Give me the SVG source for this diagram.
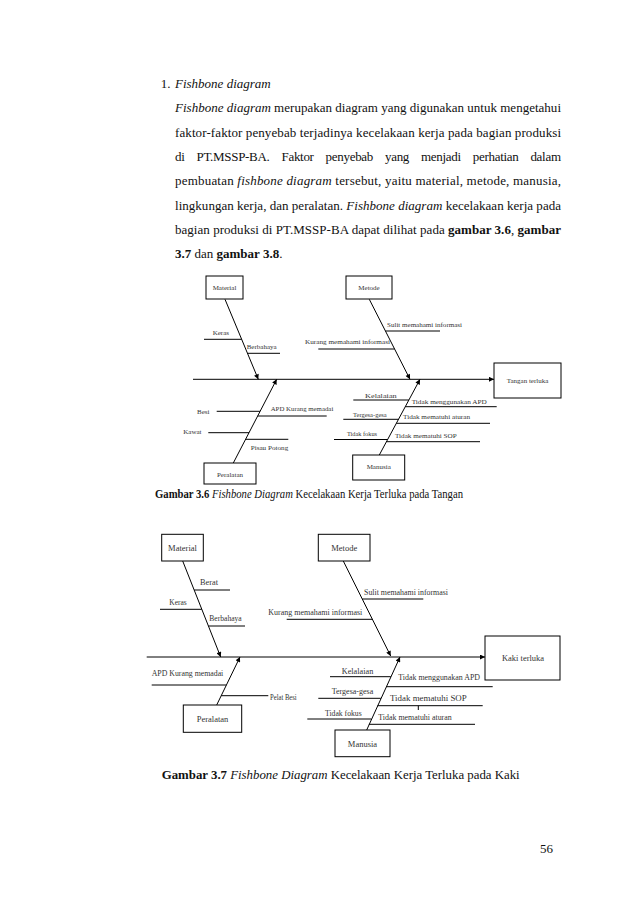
<svg xmlns="http://www.w3.org/2000/svg" width="638" height="903" viewBox="0 0 638 903">
<style>
.body{font-family:"Liberation Serif","Times New Roman",serif;font-size:13px;fill:#111}
.cap{font-family:"Liberation Serif","Times New Roman",serif;fill:#111}
.it{font-style:italic}
.bd{font-weight:bold}
.ln{stroke:#000;stroke-width:1;fill:none}
.bx{stroke:#000;stroke-width:1;fill:#fff}
.l1{font-family:"Liberation Serif","Times New Roman",serif;font-size:7px;fill:#333}
.l2{font-family:"Liberation Serif","Times New Roman",serif;font-size:8.5px;fill:#333}
.c{text-anchor:middle}
</style>
<defs>
<marker id="ah" viewBox="0 0 10 10" refX="10" refY="5" markerWidth="6" markerHeight="5" markerUnits="userSpaceOnUse" orient="auto">
<path d="M0,0 L10,5 L0,10 z" fill="#000"/>
</marker>
</defs>
<rect width="638" height="903" fill="#fff"/>

<g id="paragraph">
<text class="body" x="160.7" y="88">1.</text>
<text class="body it" x="175" y="88">Fishbone diagram</text>
<text class="body" x="175" y="112.3" textLength="386" lengthAdjust="spacing"><tspan class="it">Fishbone diagram</tspan> merupakan diagram yang digunakan untuk mengetahui</text>
<text class="body" x="175" y="136.7" textLength="386" lengthAdjust="spacing">faktor-faktor penyebab terjadinya kecelakaan kerja pada bagian produksi</text>
<text class="body" x="175" y="160.7" textLength="386" lengthAdjust="spacing" word-spacing="9">di PT.MSSP-BA. Faktor penyebab yang menjadi perhatian dalam</text>
<text class="body" x="175" y="185" textLength="386" lengthAdjust="spacing">pembuatan <tspan class="it">fishbone diagram</tspan> tersebut, yaitu material, metode, manusia,</text>
<text class="body" x="175" y="209.7" textLength="386" lengthAdjust="spacing">lingkungan kerja, dan peralatan. <tspan class="it">Fishbone diagram</tspan> kecelakaan kerja pada</text>
<text class="body" x="175" y="234" textLength="386" lengthAdjust="spacing">bagian produksi di PT.MSSP-BA dapat dilihat pada <tspan class="bd">gambar 3.6</tspan>, <tspan class="bd">gambar</tspan></text>
<text class="body" x="175" y="258"><tspan class="bd">3.7</tspan> dan <tspan class="bd">gambar 3.8</tspan>.</text>
</g>

<!-- ===== Diagram 3.6 ===== -->
<g id="d1-connectors">
<line class="ln" x1="193" y1="379.3" x2="494" y2="379.3" marker-end="url(#ah)"/>
<line class="ln" x1="225" y1="299.3" x2="258.3" y2="379.3" marker-end="url(#ah)"/>
<line class="ln" x1="369.3" y1="299.3" x2="410" y2="379.3" marker-end="url(#ah)"/>
<line class="ln" x1="233.3" y1="463" x2="276.7" y2="379.3" marker-end="url(#ah)"/>
<line class="ln" x1="379.3" y1="455" x2="420" y2="379.3" marker-end="url(#ah)"/>
<line class="ln" x1="204" y1="339.3" x2="241.7" y2="339.3"/>
<line class="ln" x1="247.5" y1="353.3" x2="280" y2="353.3"/>
<line class="ln" x1="385.4" y1="331" x2="440" y2="331"/>
<line class="ln" x1="318.3" y1="349" x2="394.6" y2="349"/>
<line class="ln" x1="216.7" y1="411.3" x2="260" y2="411.3"/>
<line class="ln" x1="257.7" y1="416" x2="326.7" y2="416"/>
<line class="ln" x1="208.3" y1="432.7" x2="249" y2="432.7"/>
<line class="ln" x1="245.6" y1="439.3" x2="288.3" y2="439.3"/>
<line class="ln" x1="353.3" y1="400" x2="408.9" y2="400"/>
<line class="ln" x1="405.3" y1="406.7" x2="496.7" y2="406.7"/>
<line class="ln" x1="343.3" y1="419.3" x2="398.5" y2="419.3"/>
<line class="ln" x1="396.3" y1="423.3" x2="490" y2="423.3"/>
<line class="ln" x1="334" y1="439.5" x2="387.6" y2="439.5"/>
<line class="ln" x1="386.5" y1="441.7" x2="480" y2="441.7"/>
</g>
<g id="d1-material"><rect class="bx" x="206" y="276" width="37" height="23"/><text class="l1 c" x="224.5" y="290">Material</text></g>
<g id="d1-metode"><rect class="bx" x="346" y="276" width="46" height="23"/><text class="l1 c" x="369" y="290">Metode</text></g>
<g id="d1-effect"><rect class="bx" x="494" y="363" width="67" height="35"/><text class="l1 c" x="527.5" y="383">Tangan terluka</text></g>
<g id="d1-peralatan"><rect class="bx" x="204" y="463" width="52" height="21"/><text class="l1 c" x="230" y="476.5">Peralatan</text></g>
<g id="d1-manusia"><rect class="bx" x="352.7" y="455" width="52" height="25"/><text class="l1 c" x="378.7" y="469">Manusia</text></g>
<g id="d1-labels">
<text class="l1" x="212.7" y="334.5">Keras</text>
<text class="l1" x="246.7" y="348.5">Berbahaya</text>
<text class="l1" x="387" y="326.5" textLength="75" lengthAdjust="spacingAndGlyphs">Sulit memahami informasi</text>
<text class="l1" x="305" y="344" textLength="85" lengthAdjust="spacingAndGlyphs">Kurang memahami informasi</text>
<text class="l1" x="197" y="413.5">Besi</text>
<text class="l1" x="270.7" y="410.8" textLength="62.6" lengthAdjust="spacingAndGlyphs">APD Kurang memadai</text>
<text class="l1" x="183.3" y="434">Kawat</text>
<text class="l1" x="250.7" y="449.8" textLength="37.6" lengthAdjust="spacingAndGlyphs">Pisau Potong</text>
<text class="l1" x="365" y="397.5" textLength="31.7" lengthAdjust="spacingAndGlyphs">Kelalaian</text>
<text class="l1" x="411.7" y="403.5" textLength="75" lengthAdjust="spacingAndGlyphs">Tidak menggunakan APD</text>
<text class="l1" x="353" y="416.5" textLength="33.7" lengthAdjust="spacingAndGlyphs">Tergesa-gesa</text>
<text class="l1" x="403" y="419.2" textLength="67" lengthAdjust="spacingAndGlyphs">Tidak mematuhi aturan</text>
<text class="l1" x="347" y="435.5" textLength="30" lengthAdjust="spacingAndGlyphs">Tidak fokus</text>
<text class="l1" x="395" y="437.5" textLength="61.7" lengthAdjust="spacingAndGlyphs">Tidak mematuhi SOP</text>
</g>
<text class="cap" x="155" y="497.5" font-size="11.5" textLength="308" lengthAdjust="spacingAndGlyphs"><tspan class="bd">Gambar 3.6</tspan> <tspan class="it">Fishbone Diagram</tspan> Kecelakaan Kerja Terluka pada Tangan</text>

<!-- ===== Diagram 3.7 ===== -->
<g id="d2-connectors">
<line class="ln" x1="146.7" y1="657" x2="485" y2="657" marker-end="url(#ah)"/>
<line class="ln" x1="182.7" y1="561" x2="220.7" y2="657" marker-end="url(#ah)"/>
<line class="ln" x1="343.3" y1="561" x2="390.7" y2="656" marker-end="url(#ah)"/>
<line class="ln" x1="216.7" y1="705" x2="240" y2="657" marker-end="url(#ah)"/>
<line class="ln" x1="366.7" y1="730" x2="400" y2="657" marker-end="url(#ah)"/>
<line class="ln" x1="194.2" y1="590" x2="230" y2="590"/>
<line class="ln" x1="160" y1="609.3" x2="201.8" y2="609.3"/>
<line class="ln" x1="208.4" y1="626" x2="245" y2="626"/>
<line class="ln" x1="362.3" y1="599" x2="423.3" y2="599"/>
<line class="ln" x1="286.7" y1="619.3" x2="372.4" y2="619.3"/>
<line class="ln" x1="151.7" y1="685" x2="226.4" y2="685"/>
<line class="ln" x1="221.2" y1="695.7" x2="268.3" y2="695.7"/>
<line class="ln" x1="330" y1="676.7" x2="390.9" y2="676.7"/>
<line class="ln" x1="386.3" y1="686.7" x2="492.7" y2="686.7"/>
<line class="ln" x1="318.3" y1="698.3" x2="380.9" y2="698.3"/>
<line class="ln" x1="377.5" y1="705.7" x2="482.7" y2="705.7"/>
<line class="ln" x1="418.3" y1="705.7" x2="418.3" y2="710"/>
<line class="ln" x1="307.3" y1="719" x2="371.3" y2="719"/>
<line class="ln" x1="368.9" y1="724.3" x2="475" y2="724.3"/>
</g>
<g id="d2-material"><rect class="bx" x="161.7" y="534.3" width="41.6" height="26.7"/><text class="l2 c" x="182.5" y="550.5">Material</text></g>
<g id="d2-metode"><rect class="bx" x="318.3" y="534.3" width="51.7" height="26.7"/><text class="l2 c" x="344.2" y="550.5">Metode</text></g>
<g id="d2-effect"><rect class="bx" x="485" y="636" width="75" height="44"/><text class="l2 c" x="523" y="661">Kaki terluka</text></g>
<g id="d2-peralatan"><rect class="bx" x="183.3" y="705" width="58.4" height="27.3"/><text class="l2 c" x="212.5" y="721.5">Peralatan</text></g>
<g id="d2-manusia"><rect class="bx" x="335" y="730" width="55" height="26.7"/><text class="l2 c" x="362.5" y="747">Manusia</text></g>
<g id="d2-labels">
<text class="l2" x="200" y="585.2" textLength="18" lengthAdjust="spacingAndGlyphs">Berat</text>
<text class="l2" x="169.3" y="604.5" textLength="17.4" lengthAdjust="spacingAndGlyphs">Keras</text>
<text class="l2" x="209.3" y="621.2" textLength="32.4" lengthAdjust="spacingAndGlyphs">Berbahaya</text>
<text class="l2" x="364" y="594.7" textLength="84" lengthAdjust="spacingAndGlyphs">Sulit memahami informasi</text>
<text class="l2" x="268.3" y="615" textLength="94" lengthAdjust="spacingAndGlyphs">Kurang memahami informasi</text>
<text class="l2" x="151.7" y="676" textLength="71.6" lengthAdjust="spacingAndGlyphs">APD Kurang memadai</text>
<text class="l2" x="270" y="700" textLength="26.7" lengthAdjust="spacingAndGlyphs">Pelat Besi</text>
<text class="l2" x="341.7" y="674" textLength="31.6" lengthAdjust="spacingAndGlyphs">Kelalaian</text>
<text class="l2" x="398.3" y="680" textLength="81.7" lengthAdjust="spacingAndGlyphs">Tidak menggunakan APD</text>
<text class="l2" x="331.7" y="693.7" textLength="41.6" lengthAdjust="spacingAndGlyphs">Tergesa-gesa</text>
<text class="l2" x="390" y="701.3" textLength="76.7" lengthAdjust="spacingAndGlyphs">Tidak mematuhi SOP</text>
<text class="l2" x="325" y="715.7" textLength="36.7" lengthAdjust="spacingAndGlyphs">Tidak fokus</text>
<text class="l2" x="378.3" y="719.7" textLength="73.4" lengthAdjust="spacingAndGlyphs">Tidak mematuhi aturan</text>
</g>
<text class="cap" x="161.7" y="779" font-size="12.5" textLength="358" lengthAdjust="spacingAndGlyphs"><tspan class="bd">Gambar 3.7</tspan> <tspan class="it">Fishbone Diagram</tspan> Kecelakaan Kerja Terluka pada Kaki</text>

<text class="body" x="540" y="852.5">56</text>
</svg>
